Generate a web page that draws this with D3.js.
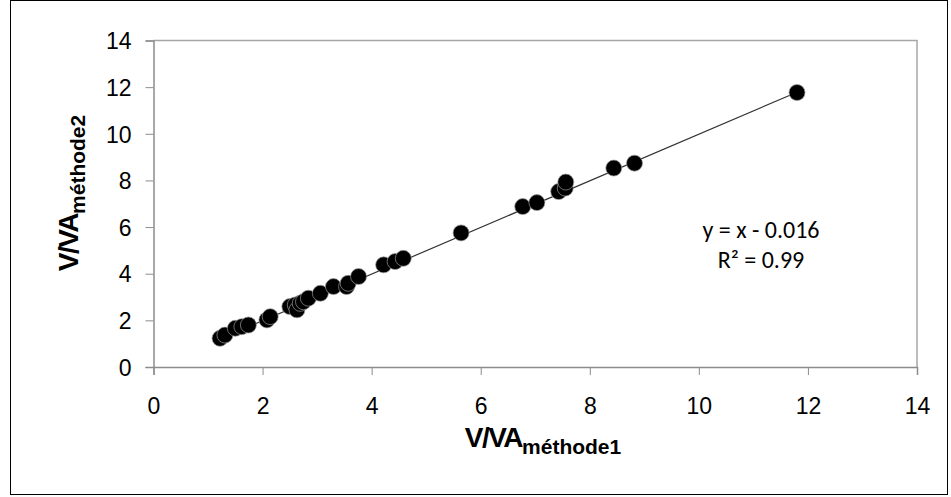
<!DOCTYPE html>
<html><head><meta charset="utf-8">
<script src="https://cdn.jsdelivr.net/npm/d3@7"></script>
<style>body{margin:0;background:#fff}svg{display:block}</style>
</head><body>
<svg id="c" width="951" height="497"></svg>
<script>
const xValues = [1.22,1.31,1.50,1.62,1.74,2.08,2.14,2.50,2.60,2.63,2.69,2.75,2.84,3.06,3.30,3.54,3.57,3.76,4.22,4.43,4.58,5.64,6.77,7.03,7.43,7.55,7.56,8.44,8.82,11.80];
const yValues = [1.23,1.37,1.66,1.73,1.80,2.02,2.16,2.59,2.66,2.45,2.73,2.80,2.95,3.16,3.45,3.45,3.59,3.88,4.38,4.52,4.66,5.75,6.88,7.05,7.52,7.67,7.93,8.53,8.74,11.77];
const xTicks = [0,2,4,6,8,10,12,14];
const yTicks = [0,2,4,6,8,10,12,14];
const slope = 1, intercept = -0.016;
const eqLines = ["y = x - 0.016", "R² = 0.99"];

const svg = d3.select("#c");
const x = d3.scaleLinear().domain([0,14]).range([153.5,917]);
const y = d3.scaleLinear().domain([0,14]).range([367,40.5]);

// outer frame
svg.append("rect").attr("x",10.5).attr("y",0.5).attr("width",937).attr("height",494)
  .attr("fill","none").attr("stroke","#000").attr("stroke-width",1);

// plot area border (top/right)
svg.append("path").attr("d",`M${x(0)},${y(14)}H${x(14)}V${y(0)}`)
  .attr("fill","none").attr("stroke","#a6a6a6").attr("stroke-width",1.5);

const gx = svg.append("g").attr("transform",`translate(0,${y(0)})`)
  .call(d3.axisBottom(x).tickValues(xTicks).tickSize(8).tickPadding(23).tickFormat(d3.format("d")));
const gy = svg.append("g").attr("transform",`translate(${x(0)},0)`)
  .call(d3.axisLeft(y).tickValues(yTicks).tickSize(8).tickPadding(14).tickFormat(d3.format("d")));
[gx,gy].forEach(g=>{
  g.select(".domain").attr("stroke","#8c8c8c").attr("stroke-width",1.5);
  g.selectAll(".tick line").attr("stroke","#8c8c8c").attr("stroke-width",1);
  g.selectAll(".tick text").attr("font-family","'Liberation Sans',Arial,sans-serif").attr("font-size",23).attr("fill","#000");
});
gy.selectAll(".tick text").attr("dy","0.36em");

// trend line
const x0 = d3.min(xValues), x1 = d3.max(xValues);
svg.append("line")
  .attr("x1",x(x0)).attr("y1",y(slope*x0+intercept))
  .attr("x2",x(x1)).attr("y2",y(slope*x1+intercept))
  .attr("stroke","#333").attr("stroke-width",1.2);

// points
svg.append("g").selectAll("circle").data(xValues.map((v,i)=>[v,yValues[i]])).join("circle")
  .attr("cx",d=>x(d[0])).attr("cy",d=>y(d[1])).attr("r",8)
  .attr("fill","#000").attr("stroke","#9a9a9a").attr("stroke-width",0.7);

// equation
svg.append("g").selectAll("text").data(eqLines).join("text")
  .attr("x",761).attr("y",(d,i)=>238+i*30).attr("text-anchor","middle")
  .attr("font-family","Carlito,Lato,sans-serif").attr("font-size",24).attr("fill","#000")
  .text(d=>d);

// x axis title
const xt = svg.append("text").attr("x",543).attr("y",447).attr("text-anchor","middle")
  .attr("font-family","'Liberation Sans',Arial,sans-serif").attr("font-weight","bold").attr("fill","#000");
xt.append("tspan").attr("font-size",28).attr("letter-spacing",-1.5).text("V/VA");
xt.append("tspan").attr("font-size",21).attr("dy",7).text("méthode1");

// y axis title
const yt = svg.append("text").attr("transform","translate(78,193) rotate(-90)").attr("text-anchor","middle")
  .attr("font-family","'Liberation Sans',Arial,sans-serif").attr("font-weight","bold").attr("fill","#000");
yt.append("tspan").attr("font-size",28).attr("letter-spacing",-1.5).text("V/VA");
yt.append("tspan").attr("font-size",21).attr("dy",7).text("méthode2");
</script>
</body></html>
